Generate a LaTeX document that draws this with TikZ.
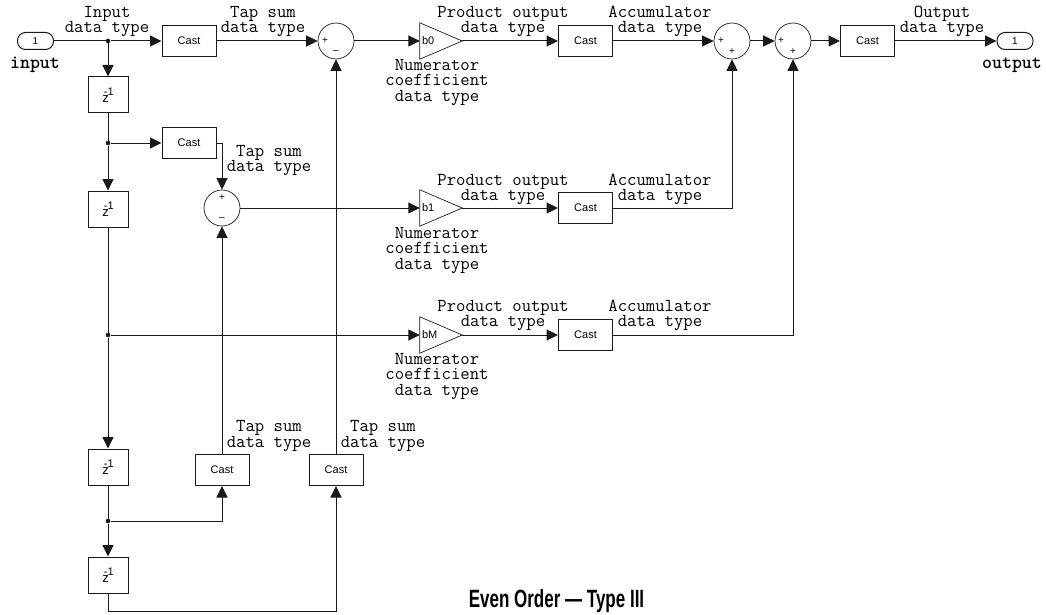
\documentclass[tikz,border=0pt]{standalone}
\usepackage{fontspec}
\setmainfont{Liberation Sans}
\usetikzlibrary{arrows.meta}
\definecolor{ink}{HTML}{1A1A1A}
\tikzset{
  x=1pt,y=-1pt,
  box/.style={draw=ink,line width=1pt,fill=white,inner sep=0pt,minimum width=#1,font=\fontsize{11}{11}\selectfont},
  cast/.style={box=54pt,minimum height=31pt},
  delay/.style={box=40pt,minimum height=36pt,font=\fontsize{13}{13}\selectfont},
  sumnode/.style={circle,draw=ink,line width=.7pt,inner sep=0pt,minimum size=36pt,fill=white},
  gain/.style={inner sep=0pt,minimum width=42pt,minimum height=36pt,text width=38pt,align=left,font=\fontsize{11}{11}\selectfont},
  tri/.style={draw=ink,line width=.7pt,fill=white},
  port/.style={rounded corners=8pt,draw=ink,line width=1pt,inner sep=0pt,minimum width=36pt,minimum height=17pt,fill=white,font=\fontsize{10}{10}\selectfont},
  sign/.style={inner sep=0pt,font=\fontsize{10}{10}\selectfont},
  lbl/.style={inner sep=0pt,align=center,font=\fontsize{18.2}{15.4}\selectfont\ttfamily},
  bold/.style={inner sep=0pt,font=\fontsize{19}{19}\selectfont\ttfamily\bfseries},
  dot/.style={circle,fill=ink,inner sep=0pt,minimum size=4.6pt},
  wire/.style={draw=ink,line width=1pt},
  flow/.style={wire,-{Triangle[length=11.5pt,width=11pt]}},
}
\newcommand{\zinv}{z\raisebox{6.5pt}{\kern-5pt\fontsize{11}{11}\selectfont -1}}
\newcommand{\gaintri}[1]{\fill[tri] (#1.north west) -- (#1.east) -- (#1.south west) -- cycle;}
\begin{document}
\begin{tikzpicture}
\useasboundingbox (0,0) rectangle (1046,615);
\fill[white] (0,0) rectangle (1046,615);
% top row
\node[port] (in) at (35.5,41) {1};
\node[bold] (inlbl) at (35,65) {input};
\node[dot] (j1) at (108,41) {};
\node[cast] (c1) at (189,41) {Cast};
\node[sumnode] (s1) at (336,41) {};
\node[sign] (s1a) at (325,41) {+};
\node[sign] (s1b) at (336,52) {--};
\node[gain] (b0) at (441,41) {};
\gaintri{b0}
\node[gain] (b0t) at (441,41) {b0};
\node[cast] (c2) at (585.5,41) {Cast};
\node[sumnode] (s2) at (732,41) {};
\node[sign] (s2a) at (721,41) {+};
\node[sign] (s2b) at (732,52) {+};
\node[sumnode] (s3) at (793,41) {};
\node[sign] (s3a) at (781,41) {+};
\node[sign] (s3b) at (793,52) {+};
\node[cast] (c3) at (867.5,41) {Cast};
\node[port] (out) at (1015,41) {1};
\node[bold] (outlbl) at (1012,65) {output};
% delays
\node[delay] (z1) at (108,95) {\zinv};
\node[dot] (j2) at (108,143) {};
\node[cast] (c4) at (189,143) {Cast};
\node[delay] (z2) at (108,209) {\zinv};
\node[dot] (j3) at (108,335) {};
\node[delay] (z3) at (108,467) {\zinv};
\node[dot] (j4) at (108,521) {};
\node[delay] (z4) at (108,575) {\zinv};
% second row
\node[sumnode] (s4) at (222,208) {};
\node[sign] (s4a) at (222,198) {+};
\node[sign] (s4b) at (222,219) {--};
\node[gain] (b1) at (441,208) {};
\gaintri{b1}
\node[gain] (b1t) at (441,208) {b1};
\node[cast] (c5) at (585.5,208) {Cast};
% third row
\node[gain] (bM) at (441,335) {};
\gaintri{bM}
\node[gain] (bMt) at (441,335) {bM};
\node[cast] (c6) at (585.5,335) {Cast};
% bottom casts
\node[cast] (c7) at (222,470) {Cast};
\node[cast] (c8) at (336,470) {Cast};
\coordinate (corner) at (108,611);
% connectors
\draw[wire] (in) -- (j1);
\draw[flow] (j1) -- (c1);
\draw[flow] (c1) -- (s1);
\draw[flow] (s1) -- (b0.west);
\draw[flow] (b0.east) -- (c2);
\draw[flow] (c2) -- (s2);
\draw[flow] (s2) -- (s3);
\draw[flow] (s3) -- (c3);
\draw[flow] (c3) -- (out);
\draw[flow] (j1) -- (z1);
\draw[wire] (z1) -- (j2);
\draw[flow] (j2) -- (c4);
\draw[flow] (j2) -- (z2);
\draw[flow] (c4.east) -| (s4.north);
\draw[wire] (z2) -- (j3);
\draw[flow] (j3) -- (z3);
\draw[wire] (z3) -- (j4);
\draw[flow] (j4) -- (z4);
\draw[flow] (j3) -- (bM.west);
\draw[flow] (s4) -- (b1.west);
\draw[flow] (b1.east) -- (c5);
\draw[flow] (bM.east) -- (c6);
\draw[flow] (c5.east) -| (s2.south);
\draw[flow] (c6.east) -| (s3.south);
\draw[flow] (j4) -| (c7.south);
\draw[flow] (z4.south) |- (corner) -| (c8.south);
\draw[flow] (c7.north) -- (s4.south);
\draw[flow] (c8.north) -- (s1.south);
% labels
\node[lbl] (t1) at (107,21.5) {Input\\data type};
\node[lbl] (t2) at (263,21.5) {Tap sum\\data type};
\node[lbl] (t3) at (503,21.5) {Product output\\data type};
\node[lbl] (t4) at (660,21.5) {Accumulator\\data type};
\node[lbl] (t5) at (942,21.5) {Output\\data type};
\node[lbl] (t6) at (437,82.5) {Numerator\\coefficient\\data type};
\node[lbl] (t7) at (269,160.5) {Tap sum\\data type};
\node[lbl] (t8) at (503,189.5) {Product output\\data type};
\node[lbl] (t9) at (660,189.5) {Accumulator\\data type};
\node[lbl] (t10) at (437,250.5) {Numerator\\coefficient\\data type};
\node[lbl] (t11) at (503,315.5) {Product output\\data type};
\node[lbl] (t12) at (660,315.5) {Accumulator\\data type};
\node[lbl] (t13) at (437,376.5) {Numerator\\coefficient\\data type};
\node[lbl] (t14) at (269,436) {Tap sum\\data type};
\node[lbl] (t15) at (383,436) {Tap sum\\data type};
\node[inner sep=0pt,xscale=.68,font=\fontsize{25}{25}\selectfont\bfseries] (title) at (556.5,601) {Even Order --- Type III};
\end{tikzpicture}
\end{document}
